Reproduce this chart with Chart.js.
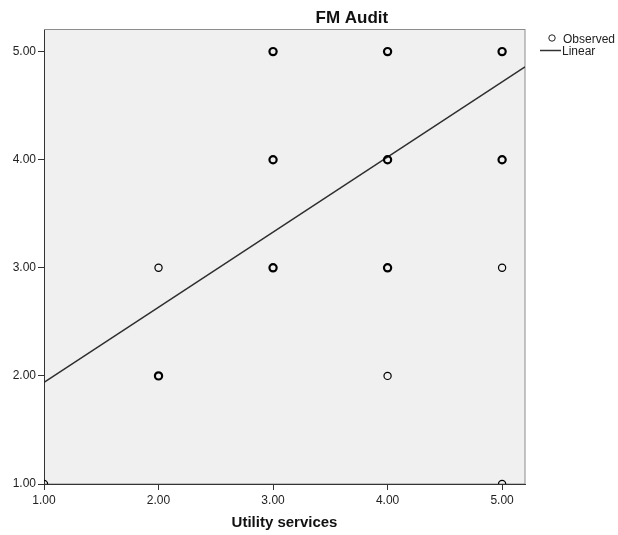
<!DOCTYPE html>
<html>
<head>
<meta charset="utf-8">
<script src="https://cdn.jsdelivr.net/npm/chart.js@4/dist/chart.umd.min.js"></script>
<style>
  html, body { margin: 0; padding: 0; background: #ffffff; }
  #c { display: block; }
</style>
</head>
<body>
<canvas id="c" width="618" height="535"></canvas>
<script>
// Scatter of FM Audit against Utility services with a linear fit line
const chartTitle = 'FM Audit';
const xAxisTitle = 'Utility services';
const tickValues = [1, 2, 3, 4, 5];
const axisMin = 1;
const axisMax = 5.2;

// Observed cases (x, y) and how many cases are stacked on each position
const obsX = [1, 2, 2, 3, 3, 3, 4, 4, 4, 4, 5, 5, 5, 5];
const obsY = [1, 3, 2, 5, 4, 3, 5, 4, 3, 2, 5, 4, 3, 1];
const obsStacked = [1, 1, 2, 2, 2, 2, 2, 2, 2, 1, 2, 2, 1, 1];

// Linear fit line end points
const fitX = [1, 5.2];
const fitY = [1.94, 4.86];

const FONT = "'Liberation Sans', Arial, sans-serif";

const observedPoints = obsX.map((x, i) => ({ x: x, y: obsY[i] }));
const fitPoints = fitX.map((x, i) => ({ x: x, y: fitY[i] }));

// Light grey plot panel with a thin border
const panelPlugin = {
  id: 'panel',
  beforeDraw(chart) {
    const { ctx, chartArea: a } = chart;
    ctx.save();
    ctx.fillStyle = '#f0f0f0';
    ctx.fillRect(a.left, a.top, a.right - a.left, a.bottom - a.top);
    ctx.strokeStyle = '#8c8c8c';
    ctx.lineWidth = 1;
    ctx.strokeRect(a.left + 0.5, a.top - 0.5, a.right - a.left - 0.5, a.bottom - a.top + 0.5);
    ctx.restore();
  }
};

// Chart heading and the small legend to the right of the panel
const headingLegendPlugin = {
  id: 'headingLegend',
  afterDraw(chart) {
    const { ctx, chartArea: a } = chart;
    ctx.save();
    ctx.fillStyle = '#111';
    ctx.font = 'bold 17px ' + FONT;
    ctx.textAlign = 'center';
    ctx.textBaseline = 'alphabetic';
    ctx.fillText(chartTitle, a.left + (a.right - a.left) * 0.64, 23);

    const ds = chart.data.datasets;
    const lx = a.right + 15;
    ctx.font = '12px ' + FONT;
    ctx.textAlign = 'left';
    ctx.textBaseline = 'middle';
    ctx.fillStyle = '#222';
    // Observed
    ctx.strokeStyle = '#222';
    ctx.lineWidth = 1;
    ctx.beginPath();
    ctx.arc(lx + 12, 38, 3.2, 0, Math.PI * 2);
    ctx.stroke();
    ctx.fillText(ds[0].label, lx + 23, 40);
    // Linear
    ctx.strokeStyle = '#333';
    ctx.lineWidth = 1.5;
    ctx.beginPath();
    ctx.moveTo(lx, 50.5);
    ctx.lineTo(lx + 21, 50.5);
    ctx.stroke();
    ctx.fillText(ds[1].label, lx + 22, 52);
    ctx.restore();
  }
};

const tickStyle = {
  color: '#222',
  font: { family: FONT, size: 12 }
};

new Chart(document.getElementById('c'), {
  type: 'scatter',
  data: {
    datasets: [
      {
        label: 'Observed',
        data: observedPoints,
        pointStyle: 'circle',
        pointRadius: 3.6,
        pointHoverRadius: 3.6,
        pointBackgroundColor: 'rgba(0,0,0,0)',
        pointBorderColor: '#000',
        pointBorderWidth: ctx => (obsStacked[ctx.dataIndex] > 1 ? 2.2 : 1.2),
        clip: 0,
        order: 1
      },
      {
        label: 'Linear',
        type: 'line',
        data: fitPoints,
        showLine: true,
        borderColor: '#2e2e2e',
        borderWidth: 1.5,
        pointRadius: 0,
        fill: false,
        clip: 0,
        order: 2
      }
    ]
  },
  options: {
    responsive: false,
    animation: false,
    devicePixelRatio: 1,
    layout: { padding: { top: 30, right: 93, left: 0, bottom: 0 } },
    plugins: {
      legend: { display: false },
      title: { display: false },
      tooltip: { enabled: false }
    },
    scales: {
      x: {
        type: 'linear',
        min: axisMin,
        max: axisMax,
        afterBuildTicks: s => { s.ticks = tickValues.map(v => ({ value: v })); },
        afterFit: s => { s.height = 51; },
        ticks: Object.assign({ padding: 3, maxRotation: 0, callback: v => Number(v).toFixed(2) }, tickStyle),
        grid: { display: true, drawOnChartArea: false, drawTicks: true, tickLength: 6, tickColor: '#333', tickWidth: 1 },
        border: { display: true, color: '#333', width: 1 },
        title: {
          display: true,
          text: xAxisTitle,
          color: '#111',
          font: { family: FONT, size: 15, weight: 'bold' },
          padding: { top: 0, bottom: 3 }
        }
      },
      y: {
        type: 'linear',
        min: axisMin,
        max: axisMax,
        afterBuildTicks: s => { s.ticks = tickValues.map(v => ({ value: v })); },
        afterFit: s => { s.width = 44; },
        ticks: Object.assign({ padding: 2, callback: v => Number(v).toFixed(2) }, tickStyle),
        grid: { display: true, drawOnChartArea: false, drawTicks: true, tickLength: 6, tickColor: '#333', tickWidth: 1 },
        border: { display: true, color: '#333', width: 1 }
      }
    }
  },
  plugins: [panelPlugin, headingLegendPlugin]
});
</script>
</body>
</html>
